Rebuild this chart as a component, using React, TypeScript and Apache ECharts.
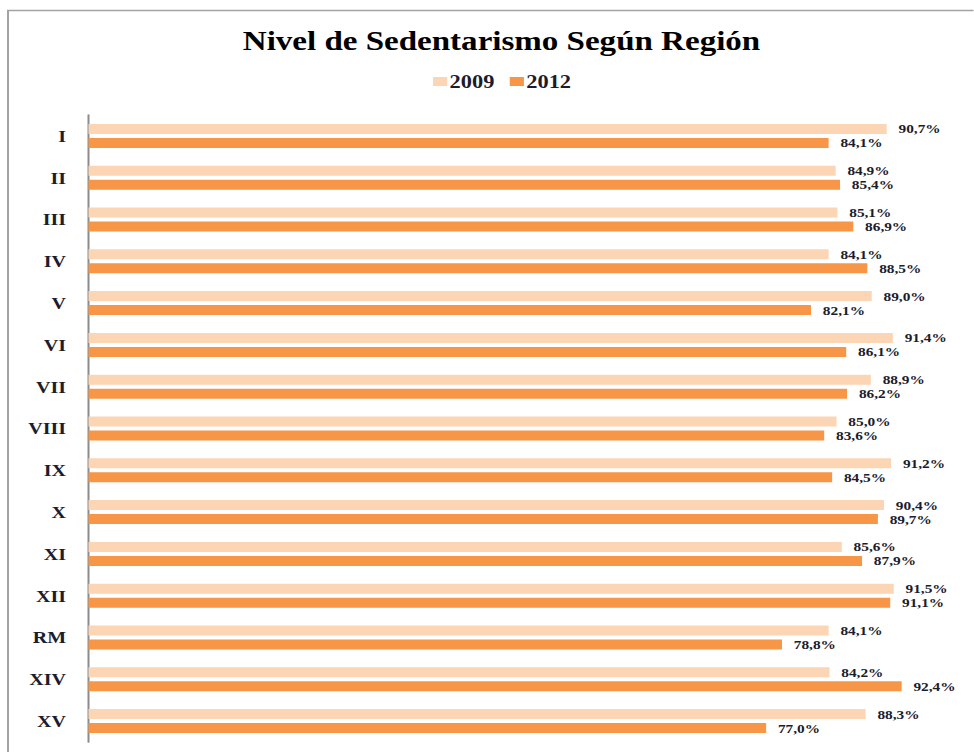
import React, { useEffect, useRef } from "react";
import * as echarts from "echarts";

const categories = ["I", "II", "III", "IV", "V", "VI", "VII", "VIII", "IX", "X", "XI", "XII", "RM", "XIV", "XV"];
const values2009 = [90.7, 84.9, 85.1, 84.1, 89.0, 91.4, 88.9, 85.0, 91.2, 90.4, 85.6, 91.5, 84.1, 84.2, 88.3];
const values2012 = [84.1, 85.4, 86.9, 88.5, 82.1, 86.1, 86.2, 83.6, 84.5, 89.7, 87.9, 91.1, 78.8, 92.4, 77.0];
const seriesNames = ["2009", "2012"];
const titleText = "Nivel de Sedentarismo Según Región";

const STRETCH = 1.18;
const W = 974 / STRETCH;
const H = 752;
const FONT = "'Liberation Serif', 'Times New Roman', serif";
const TEXT_COLOR = "#1c1c2c";

const fmt = (v: number) => v.toFixed(1).replace(".", ",") + "%";

export default function App() {
  const ref = useRef<HTMLDivElement>(null);
  useEffect(() => {
    if (!ref.current) return;
    const chart = echarts.init(ref.current, null, { renderer: "svg" });
    const labelCfg = {
      show: true,
      position: "right" as const,
      distance: 10,
      fontFamily: FONT,
      fontWeight: "bold" as const,
      fontSize: 13,
      color: TEXT_COLOR,
      formatter: (p: any) => fmt(p.value),
    };
    chart.setOption({
      animation: false,
      backgroundColor: "#ffffff",
      title: {
        text: titleText,
        left: 420,
        textAlign: "center",
        top: 22,
        textStyle: { fontFamily: FONT, fontWeight: "bold", fontSize: 28, color: "#000000" },
      },
      legend: {
        data: seriesNames,
        left: 362,
        top: 67,
        itemWidth: 12,
        itemHeight: 9,
        itemGap: 13,
        icon: "rect",
        textStyle: { fontFamily: FONT, fontWeight: "bold", fontSize: 19, color: TEXT_COLOR, padding: [0, 0, 0, -3] },
      },
      grid: { left: 75, top: 115, width: 745.8, height: 627, containLabel: false },
      xAxis: {
        type: "value",
        min: 0,
        max: 100,
        show: false,
      },
      yAxis: {
        type: "category",
        data: categories,
        inverse: true,
        axisLine: { show: true, lineStyle: { color: "#8c8c8c", width: 1.7 } },
        axisTick: { show: false },
        axisLabel: {
          margin: 19,
          fontFamily: FONT,
          fontWeight: "bold",
          fontSize: 17,
          color: TEXT_COLOR,
        },
        splitLine: { show: false },
      },
      graphic: [
        {
          type: "polyline",
          silent: true,
          shape: { points: [[6.8, 760], [6.8, 10.5], [W + 10, 10.5]] },
          style: { stroke: "#a3a3a3", lineWidth: 1.7, fill: "none" },
        },
      ],
      series: [
        {
          name: seriesNames[0],
          type: "bar",
          data: values2009,
          barWidth: 10,
          barGap: "40%",
          itemStyle: { color: "#FCD5B5" },
          label: labelCfg,
        },
        {
          name: seriesNames[1],
          type: "bar",
          data: values2012,
          barWidth: 10,
          barGap: "40%",
          itemStyle: { color: "#F79646" },
          label: labelCfg,
        },
      ],
    });
    return () => chart.dispose();
  }, []);
  return (
    <div
      ref={ref}
      style={{
        position: "absolute",
        left: 0,
        top: 0,
        width: W,
        height: H,
        transform: `scaleX(${STRETCH})`,
        transformOrigin: "0 0",
      }}
    />
  );
}
